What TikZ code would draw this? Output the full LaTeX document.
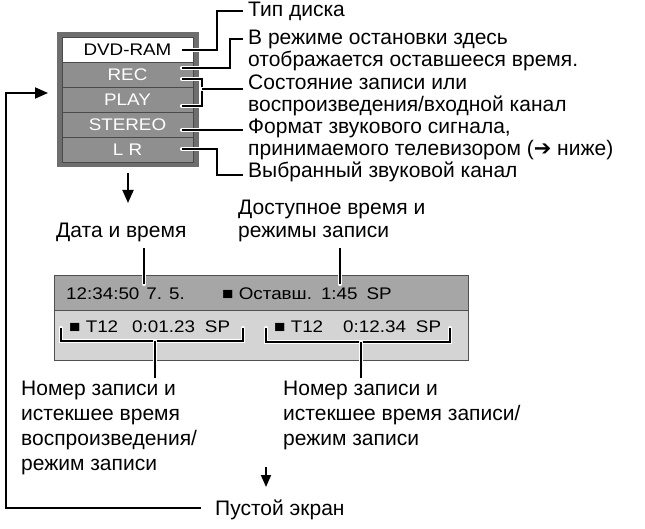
\documentclass[tikz,border=0pt]{standalone}
\usepackage{fontspec}
\setmainfont{Liberation Sans}
\newfontfamily\dv{DejaVu Sans}
\newfontfamily\scrfont[FakeStretch=1.12]{Liberation Sans}
\usetikzlibrary{arrows.meta}
\definecolor{boxouter}{HTML}{6E6E6E}
\definecolor{cellgray}{HTML}{8F8F8F}
\definecolor{cellline}{HTML}{4A4A4A}
\definecolor{scrtop}{HTML}{A6A6A6}
\definecolor{scrbot}{HTML}{D4D4D4}
\definecolor{scrborder}{HTML}{505050}
\begin{document}
\begin{tikzpicture}[x=1pt,y=-1pt,
  font=\fontsize{21}{22.3}\selectfont,
  cell/.style={draw=cellline, line width=0.9pt, fill=cellgray, text=white,
    font=\scrfont\fontsize{16.8}{18}\selectfont,
    minimum width=131pt, minimum height=25pt, inner sep=0pt},
  lbl/.style={anchor=base west, align=left, inner sep=0pt},
  lblb/.style={lbl, font=\fontsize{21}{25}\selectfont},
  lbla/.style={lbl, font=\fontsize{21}{23}\selectfont},
  stxt/.style={anchor=base west, inner sep=0pt, font=\scrfont\fontsize{16.8}{18}\selectfont},
  leader/.style={draw=black, line width=1.8pt,
    preaction={draw=white, line width=4.2pt, line cap=round}},
  flow/.style={draw=black, line width=1.8pt},
  arr/.style={flow, -{Triangle[length=13pt,width=11pt]}},
  scr/.style={draw=scrborder, line width=1pt, minimum width=414pt, inner sep=0pt}
]
\useasboundingbox (0,0) rectangle (645,529);

% ---- top panel
\node[fill=boxouter, minimum width=142pt, minimum height=135pt, inner sep=0pt] (panel) at (127.5,99.5) {};
\node[cell, fill=white, text=black] (dvd) at (127.5,49.5) {DVD-RAM};
\node[cell] (rec) at (127.5,74.5) {REC};
\node[cell] (play) at (127.5,99.5) {PLAY};
\node[cell] (stereo) at (127.5,124.5) {STEREO};
\node[cell] (lr) at (127.5,149.5) {L R};

% ---- right labels
\node[lbl] (t1) at (248,17) {Тип диска};
\node[lbl] (t2) at (248,66.5) {В режиме остановки здесь\\отображается оставшееся время.};
\node[lbl] (t3) at (248,112) {Состояние записи или\\воспроизведения/входной канал};
\node[lbl] (t4) at (248,155.7) {Формат звукового сигнала,\\принимаемого телевизором ({\dv ➔} ниже)};
\node[lbl] (t5) at (248,178) {Выбранный звуковой канал};

\coordinate (s1) at (182,50);  \coordinate (e1) at (243,11);
\coordinate (s2) at (182,68);  \coordinate (e2) at (243,39);
\coordinate (s3a) at (182,79); \coordinate (s3b) at (182,106); \coordinate (e3) at (243,89);
\coordinate (s4) at (182,130); \coordinate (e4) at (243,130);
\coordinate (s5) at (182,149); \coordinate (e5) at (243,175);

\draw[leader] (s1) -- (217,50) -- (217,11) -- (e1);
\draw[leader] (s2) -- (230,68) -- (230,39) -- (e2);
\draw[leader] (s3a) -- (202,79) -- (202,106) -- (s3b);
\draw[leader] (202,89) -- (e3);
\draw[leader] (s4) -- (e4);
\draw[leader] (s5) -- (217,149) -- (217,175) -- (e5);

% ---- arrow down from panel
\coordinate (p1) at (128,173); \coordinate (p2) at (128,203);
\draw[arr] (p1) -- (p2);

% ---- labels above screen
\node[lbl] (date) at (56,238) {Дата и время};
\node[lbla] (avail) at (238,238) {Доступное время и\\режимы записи};

% ---- screen
\node[scr, fill=scrtop, minimum height=34pt] (srow1) at (261,293) {};
\node[scr, fill=scrbot, minimum height=50pt] (srow2) at (261,335) {};
\node[stxt] (d1) at (66,300) {12:34:50\hspace{7pt}7. 5.};
\node[stxt] (d2) at (222,300) {■ Оставш.\hspace{9pt}1:45\hspace{9pt}SP};
\node[stxt] (d3) at (69,332) {■ T12\hspace{14pt}0:01.23\hspace{10pt}SP};
\node[stxt] (d4) at (274,332) {■ T12\hspace{20pt}0:12.34\hspace{10pt}SP};

\coordinate (q1) at (144,248); \coordinate (q2) at (144,284);
\coordinate (r1) at (340,248); \coordinate (r2) at (340,284);
\draw[leader] (q1) -- (q2);
\draw[leader] (r1) -- (r2);

\draw[leader] (61,328) -- (61,341) -- (243,341) -- (243,328);
\draw[leader] (266,328) -- (266,342) -- (450,342) -- (450,328);
\coordinate (b1) at (155,341); \coordinate (b2) at (155,378);
\coordinate (c1) at (361,342); \coordinate (c2) at (361,378);
\draw[leader] (b1) -- (b2);
\draw[leader] (c1) -- (c2);

% ---- bottom labels
\node[lblb] (n1) at (21,470) {Номер записи и\\истекшее время\\воспроизведения/\\режим записи};
\node[lblb] (n2) at (283,445) {Номер записи и\\истекшее время записи/\\режим записи};

\coordinate (f1) at (266,467); \coordinate (f2) at (266,487);
\draw[flow, -{Triangle[length=12pt,width=10pt]}] (f1) -- (f2);

\node[lbl] (blank) at (215,515) {Пустой экран};
\coordinate (lp1) at (201,508); \coordinate (lp2) at (48,93);
\draw[arr] (lp1) -- (6,508) -- (6,93) -- (lp2);
\end{tikzpicture}
\end{document}
